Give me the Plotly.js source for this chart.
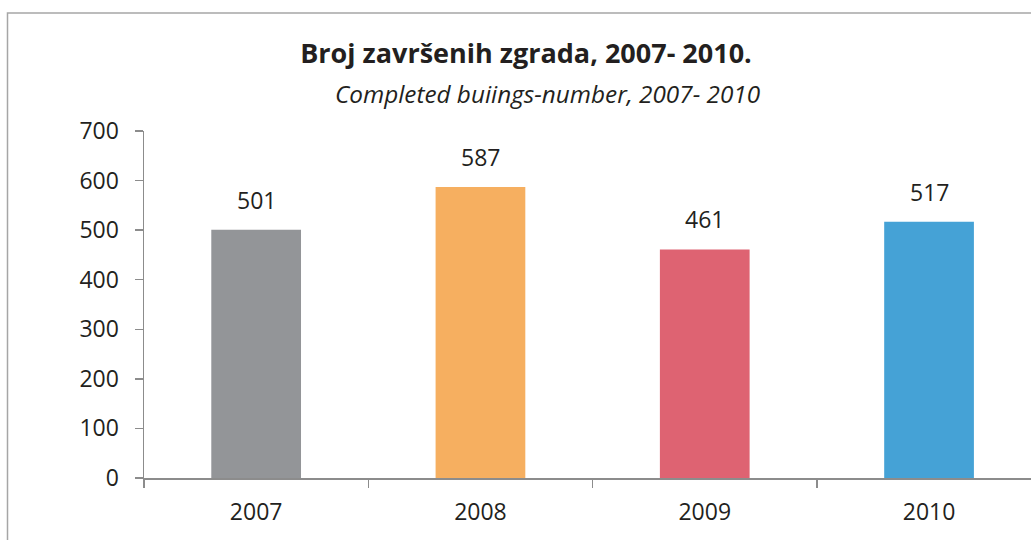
<!DOCTYPE html>
<html>
<head>
<meta charset="utf-8">
<script src="https://cdn.plot.ly/plotly-3.0.1.min.js"></script>
<style>html,body{margin:0;padding:0;background:#fff;}#chart{width:1031px;height:540px;}</style>
</head>
<body>
<div id="chart"></div>
<script>
const years = ["2007", "2008", "2009", "2010"];
const buildings = [501, 587, 461, 517];
const barColors = ["#939598", "#F6AF60", "#DE6372", "#45A2D6"];
const yTicks = [0, 100, 200, 300, 400, 500, 600, 700];
const titleText = "Broj završenih zgrada, 2007- 2010.";
const subtitleText = "Completed buiings-number, 2007- 2010";

const W = 1031, H = 540;
const mL = 144, mR = 0, mT = 131, mB = 62;
const plotW = W - mL - mR, plotH = H - mT - mB;
const catPx = 224.3;
const FONT = "Open Sans, sans-serif";
const TXT = "#231F20";
const AX = "#8C8C8C";

const trace = {
  type: "bar",
  x: years,
  y: buildings,
  width: 0.4,
  marker: {color: barColors, line: {width: 0}},
  hoverinfo: "x+y"
};

const labelAnns = years.map((yr, i) => ({
  x: i, y: buildings[i], xref: "x", yref: "y",
  text: String(buildings[i]), showarrow: false,
  xanchor: "center", yanchor: "bottom", yshift: 12,
  font: {family: FONT, size: 23, color: TXT}
}));

labelAnns.push({
  xref: "paper", yref: "paper",
  x: (547 - mL) / plotW, y: (H - mB - 94) / plotH,
  xanchor: "center", yanchor: "middle",
  text: "<i>" + subtitleText + "</i>", showarrow: false,
  font: {family: FONT, size: 24.3, color: TXT}
});

const layout = {
  width: W, height: H,
  margin: {l: mL, r: mR, t: mT, b: mB, pad: 0},
  paper_bgcolor: "#ffffff", plot_bgcolor: "#ffffff",
  showlegend: false,
  bargap: 0.6,
  title: {
    text: "<b>" + titleText + "</b>",
    xref: "paper", yref: "container",
    x: (526 - mL) / plotW, xanchor: "center",
    y: 1 - 54 / H, yanchor: "middle",
    font: {family: FONT, size: 27, color: TXT}
  },
  xaxis: {
    type: "category",
    range: [-0.5, -0.5 + plotW / catPx],
    showgrid: false, zeroline: false,
    showline: true, linecolor: AX, linewidth: 1.5,
    ticks: "outside", tickson: "boundaries", ticklen: 8, tickcolor: AX, tickwidth: 1.5,
    tickfont: {family: FONT, size: 23, color: TXT},
    ticklabelstandoff: 13,
    fixedrange: true
  },
  yaxis: {
    range: [0, 700],
    tickvals: yTicks,
    ticktext: yTicks.map(String),
    showgrid: false, zeroline: false,
    showline: true, linecolor: AX, linewidth: 1.5,
    ticks: "outside", ticklen: 8, tickcolor: AX, tickwidth: 1.5,
    tickfont: {family: FONT, size: 23, color: TXT},
    ticklabelstandoff: 11,
    fixedrange: true
  },
  annotations: labelAnns,
  shapes: [{
    type: "rect", xref: "paper", yref: "paper", layer: "below",
    x0: (7.5 - mL) / plotW, x1: (1045 - mL) / plotW,
    y0: (H - mB - 550) / plotH, y1: (H - mB - 13) / plotH,
    line: {color: "#A6A6A6", width: 1.5}, fillcolor: "rgba(0,0,0,0)"
  }]
};

Plotly.newPlot("chart", [trace], layout, {displayModeBar: false, staticPlot: true});
</script>
</body>
</html>
